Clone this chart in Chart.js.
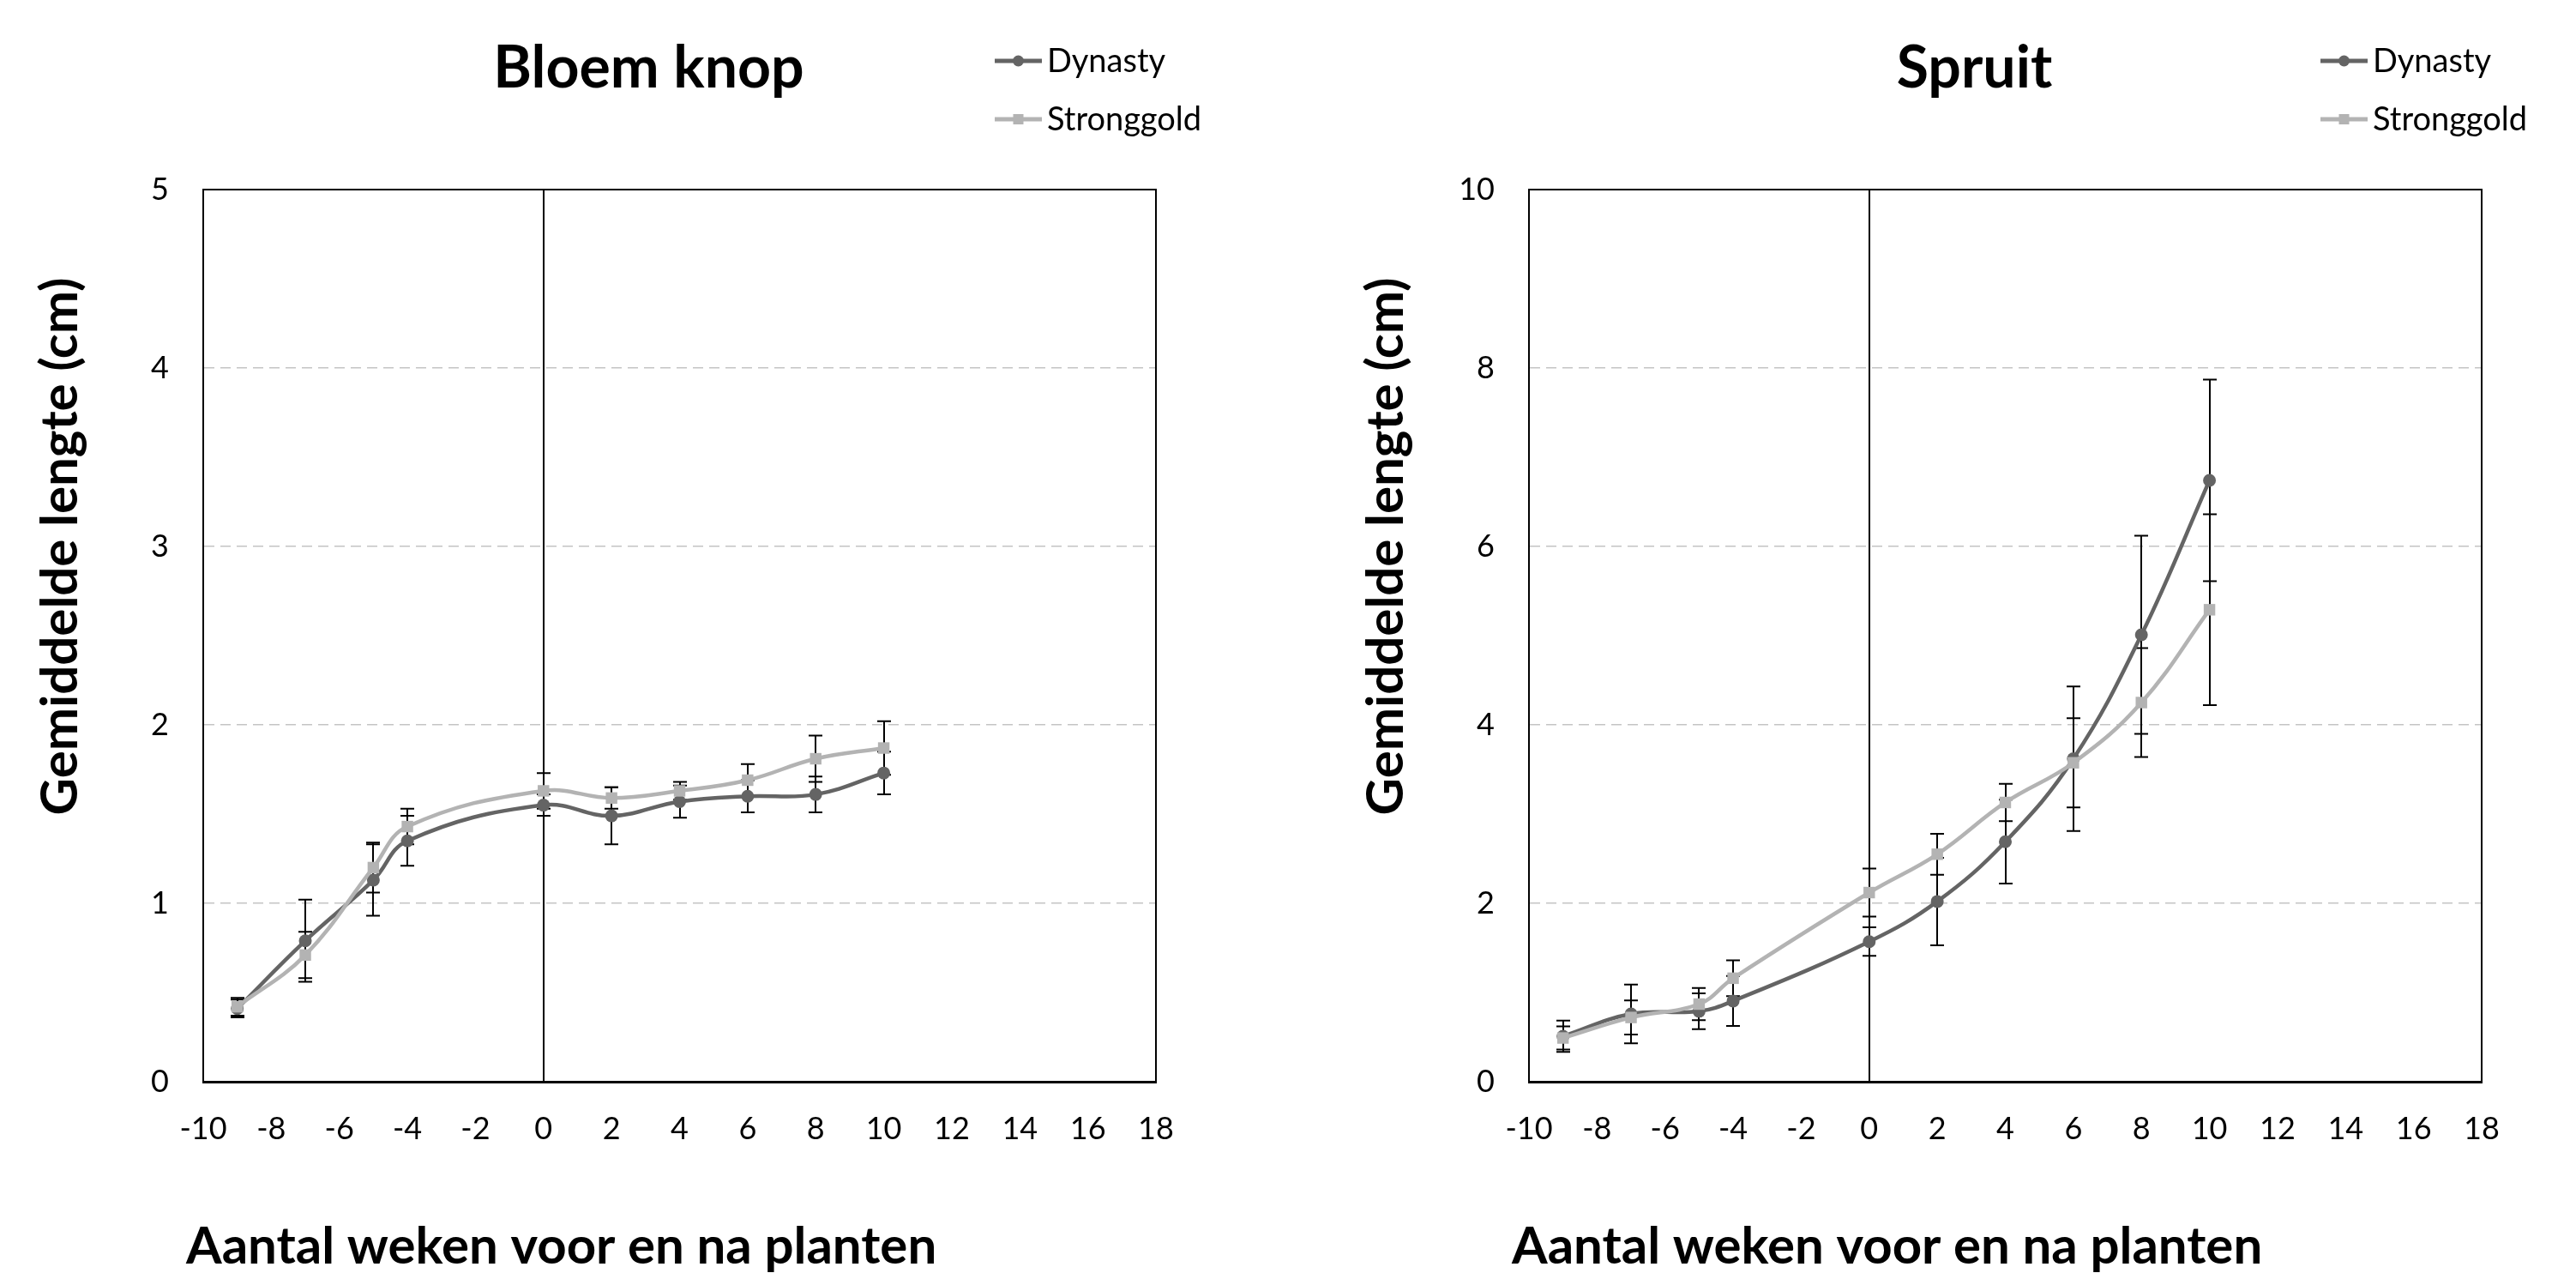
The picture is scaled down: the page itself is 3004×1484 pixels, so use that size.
<!DOCTYPE html>
<html><head><meta charset="utf-8">
<script src="https://cdn.jsdelivr.net/npm/chart.js@4.4.1/dist/chart.umd.min.js"></script>
<style>
html,body{margin:0;padding:0;background:#fff;overflow:hidden;width:3004px;height:1484px;position:relative;}
.wrap{position:absolute;top:0;width:1513px;height:1484px;}
canvas{display:block;}
</style></head><body>
<div class="wrap" style="left:0"><canvas id="c1" width="1513" height="1484"></canvas></div>
<div class="wrap" style="left:1546px"><canvas id="c2" width="1513" height="1484"></canvas></div>
<script>
// ---- data ----
const weeks = [-9, -7, -5, -4, 0, 2, 4, 6, 8, 10];
const seriesNames = ['Dynasty', 'Stronggold'];

const bloemDynasty     = [0.41, 0.79, 1.13, 1.35, 1.55, 1.49, 1.57, 1.60, 1.61, 1.73];
const bloemDynastyErr  = [0.05, 0.23, 0.20, 0.14, 0.06, 0.16, 0.09, 0.09, 0.10, 0.12];
const bloemStrong      = [0.42, 0.71, 1.20, 1.43, 1.63, 1.59, 1.63, 1.69, 1.81, 1.87];
const bloemStrongErr   = [0.05, 0.13, 0.14, 0.10, 0.10, 0.06, 0.05, 0.09, 0.13, 0.15];

const spruitDynasty    = [0.51, 0.76, 0.79, 0.905, 1.57, 2.02, 2.69, 3.62, 5.01, 6.74];
const spruitDynastyErr = [0.175, 0.33, 0.20, 0.28, 0.16, 0.49, 0.47, 0.81, 1.11, 1.13];
const spruitStrong     = [0.49, 0.72, 0.87, 1.16, 2.12, 2.55, 3.13, 3.575, 4.25, 5.29];
const spruitStrongErr  = [0.13, 0.19, 0.18, 0.20, 0.27, 0.23, 0.21, 0.50, 0.61, 1.07];

const xMin = -10, xMax = 18, xStep = 2;
const bloemYMax = 5, bloemYStep = 1;
const spruitYMax = 10, spruitYStep = 2;

const chartTitles = ['Bloem knop', 'Spruit'];
const xTitle = 'Aantal weken voor en na planten';
const yTitle = 'Gemiddelde lengte (cm)';

// ---- styling ----
const DARK = '#646464', LIGHT = '#b3b3b3';

const errorBars = {
  id: 'errorBars',
  beforeDatasetsDraw(chart) {
    const {ctx, scales: {y}} = chart;
    ctx.save();
    ctx.strokeStyle = '#000';
    ctx.lineWidth = 2;
    chart.data.datasets.forEach((ds, i) => {
      const meta = chart.getDatasetMeta(i);
      meta.data.forEach((pt, j) => {
        const v = ds.data[j].y, e = ds.errors[j];
        const x = Math.round(pt.x);
        const y1 = y.getPixelForValue(v + e), y2 = y.getPixelForValue(v - e);
        ctx.beginPath();
        ctx.moveTo(x, y1); ctx.lineTo(x, y2);
        ctx.moveTo(x - 8, y1); ctx.lineTo(x + 8, y1);
        ctx.moveTo(x - 8, y2); ctx.lineTo(x + 8, y2);
        ctx.stroke();
      });
    });
    ctx.restore();
  }
};

const decor = {
  id: 'decor',
  afterLayout(chart) {
    // centre the chart title the way the reference does (over axis + plot)
    const t = chart.titleBlock, a = chart.chartArea;
    if (t) { t.left = a.left - 72; t.right = a.right; t.width = t.right - t.left; }
  },
  afterDraw(chart, args, opts) {
    const {ctx, chartArea: a} = chart;
    ctx.save();
    // top & right frame
    ctx.strokeStyle = '#000';
    ctx.lineWidth = 2;
    ctx.beginPath();
    ctx.moveTo(a.left, a.top); ctx.lineTo(a.right, a.top); ctx.lineTo(a.right, a.bottom);
    ctx.stroke();
    // axis titles
    ctx.fillStyle = '#000';
    ctx.font = 'bold 60px Lato';
    ctx.textAlign = 'left';
    ctx.textBaseline = 'alphabetic';
    ctx.fillText(opts.xTitle, a.left - 20, 1473);
    ctx.save();
    ctx.translate(a.left - 166, 637);
    ctx.rotate(-Math.PI / 2);
    ctx.textAlign = 'center';
    ctx.textBaseline = 'middle';
    ctx.fillText(opts.yTitle, 0, 0);
    ctx.restore();
    // legend
    chart.data.datasets.forEach((ds, i) => {
      const y = 71 + i * 68;
      const x0 = a.right - 188, x1 = a.right - 133, xm = (x0 + x1) / 2;
      ctx.strokeStyle = ds.borderColor;
      ctx.lineWidth = 5;
      ctx.beginPath(); ctx.moveTo(x0, y); ctx.lineTo(x1, y); ctx.stroke();
      ctx.fillStyle = ds.borderColor;
      if (ds.pointStyle === 'circle') {
        ctx.beginPath(); ctx.arc(xm, y, 6.5, 0, Math.PI * 2); ctx.fill();
      } else {
        ctx.fillRect(xm - 6, y - 6, 12, 12);
      }
      ctx.fillStyle = '#000';
      ctx.font = '38px Lato';
      ctx.textAlign = 'left';
      ctx.textBaseline = 'middle';
      ctx.fillText(ds.label, a.right - 127, y + 1);
    });
    ctx.restore();
  }
};

function pts(vals) { return weeks.map((w, i) => ({x: w, y: vals[i]})); }

function makeChart(id, title, dVals, dErr, sVals, sErr, yMax, yStep) {
  return new Chart(document.getElementById(id), {
    type: 'line',
    data: {
      datasets: [
        {label: seriesNames[0], data: pts(dVals), errors: dErr, order: 1,
         borderColor: DARK, backgroundColor: DARK, borderWidth: 4.5,
         pointStyle: 'circle', pointRadius: 7.5, pointBorderWidth: 0,
         pointBackgroundColor: DARK, tension: 0.4, fill: false},
        {label: seriesNames[1], data: pts(sVals), errors: sErr, order: 0,
         borderColor: LIGHT, backgroundColor: LIGHT, borderWidth: 4.5,
         pointStyle: 'rect', pointRadius: 9.5, pointBorderWidth: 0,
         pointBackgroundColor: LIGHT, tension: 0.4, fill: false}
      ]
    },
    options: {
      responsive: false,
      devicePixelRatio: 1,
      animation: false,
      events: [],
      layout: {padding: {left: 100, right: 165, top: 0, bottom: 0}},
      plugins: {
        legend: {display: false},
        tooltip: {enabled: false},
        title: {
          display: true, text: title, color: '#000',
          font: {family: 'Lato', weight: 'bold', size: 68, lineHeight: 1.2},
          padding: {top: 39, bottom: 100.4}
        },
        decor: {xTitle: xTitle, yTitle: yTitle}
      },
      scales: {
        x: {
          type: 'linear', min: xMin, max: xMax,
          afterFit(s) { s.height = 223; },
          ticks: {stepSize: xStep, autoSkip: false, maxRotation: 0, padding: 34,
                  color: '#000', font: {family: 'Lato', size: 36}},
          grid: {drawTicks: false, lineWidth: 2,
                 color: c => (c.tick && c.tick.value === 0) ? '#000' : 'rgba(0,0,0,0)'},
          border: {display: true, color: '#000', width: 3}
        },
        y: {
          type: 'linear', min: 0, max: yMax,
          afterFit(s) { s.width = 137; },
          ticks: {stepSize: yStep, padding: 40, color: '#000', font: {family: 'Lato', size: 36}},
          grid: {drawTicks: false, lineWidth: 1.5, color: '#c4c4c4'},
          border: {display: true, color: '#000', width: 2, dash: [12, 7]}
        }
      }
    },
    plugins: [errorBars, decor]
  });
}

function draw() {
  makeChart('c1', chartTitles[0], bloemDynasty, bloemDynastyErr, bloemStrong, bloemStrongErr, bloemYMax, bloemYStep);
  makeChart('c2', chartTitles[1], spruitDynasty, spruitDynastyErr, spruitStrong, spruitStrongErr, spruitYMax, spruitYStep);
}
Promise.all([
  document.fonts.load('bold 68px Lato'),
  document.fonts.load('38px Lato')
]).then(draw, draw);
</script>
</body></html>
